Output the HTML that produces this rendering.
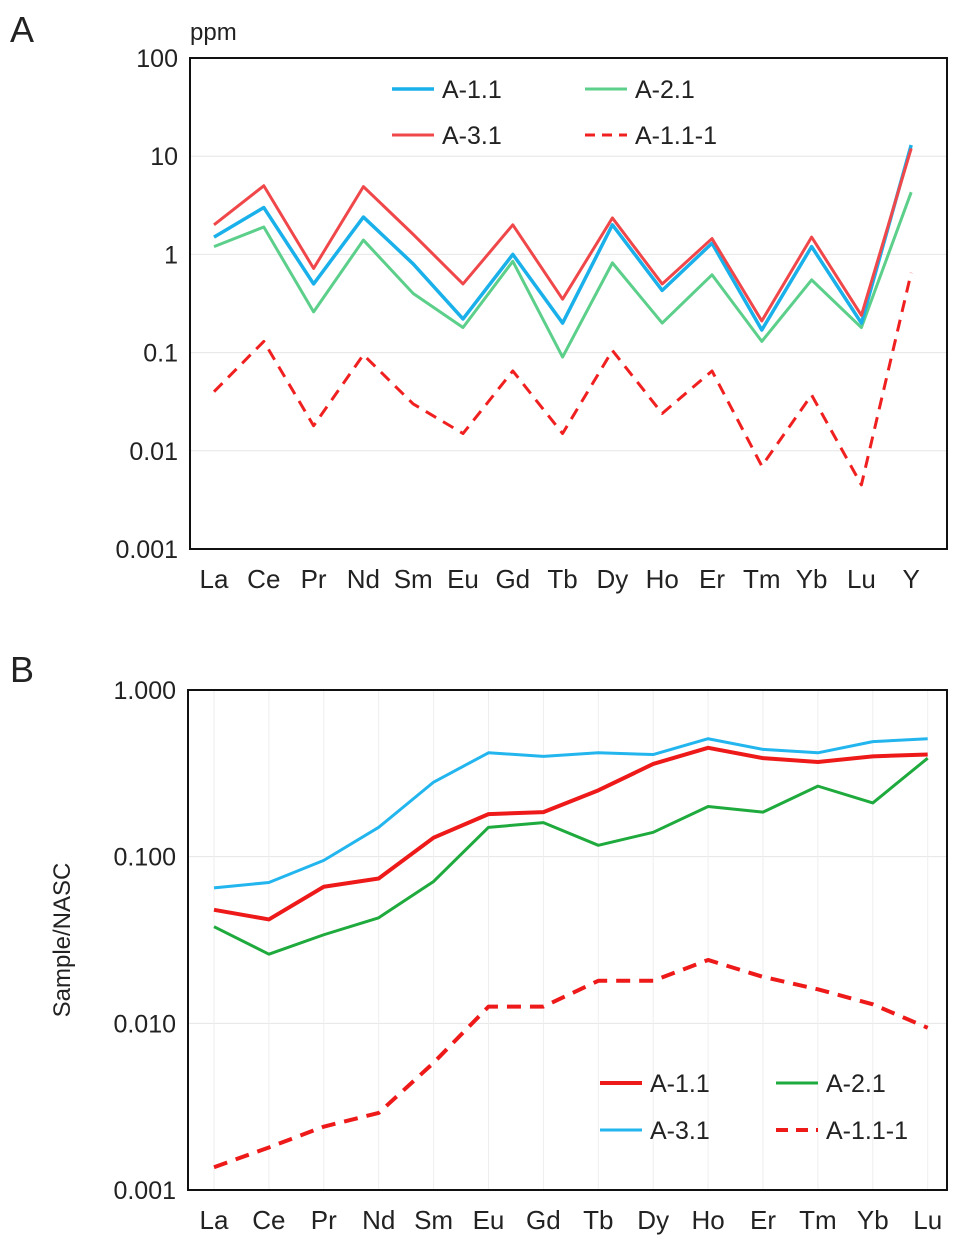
<!DOCTYPE html>
<html><head><meta charset="utf-8"><style>
body{margin:0;background:#fff;}
svg text{font-family:"Liberation Sans",Arial,sans-serif;fill:#222;}
</style></head><body>
<svg width="969" height="1246" viewBox="0 0 969 1246" xmlns="http://www.w3.org/2000/svg" id="fig">
<g id="gA"></g>
<g id="gB"></g>
</svg>
<script>
const catsA=["La","Ce","Pr","Nd","Sm","Eu","Gd","Tb","Dy","Ho","Er","Tm","Yb","Lu","Y"];
const a11A=[1.5,3.0,0.5,2.4,0.8,0.22,1.0,0.2,2.0,0.43,1.3,0.17,1.2,0.2,13];
const a21A=[1.2,1.9,0.26,1.4,0.4,0.18,0.85,0.09,0.82,0.2,0.62,0.13,0.55,0.18,4.3];
const a31A=[2.0,5.0,0.72,4.9,1.6,0.5,2.0,0.35,2.35,0.5,1.45,0.21,1.5,0.24,12];
const a111A=[0.04,0.13,0.018,0.095,0.03,0.015,0.065,0.015,0.105,0.024,0.065,0.007,0.037,0.0045,0.65];
const ticksA=["0.001","0.01","0.1","1","10","100"];
const catsB=["La","Ce","Pr","Nd","Sm","Eu","Gd","Tb","Dy","Ho","Er","Tm","Yb","Lu"];
const a11B=[0.048,0.042,0.066,0.074,0.13,0.18,0.185,0.25,0.36,0.45,0.39,0.37,0.40,0.41];
const a21B=[0.038,0.026,0.034,0.043,0.071,0.15,0.16,0.117,0.14,0.20,0.185,0.265,0.21,0.39];
const a31B=[0.065,0.07,0.095,0.15,0.28,0.42,0.40,0.42,0.41,0.51,0.44,0.42,0.49,0.51];
const a111B=[0.00137,0.0018,0.0024,0.0029,0.0058,0.0126,0.0126,0.018,0.018,0.024,0.019,0.016,0.013,0.0094];
const ticksB=["0.001","0.010","0.100","1.000"];
const NS="http://www.w3.org/2000/svg";
function mk(p,t,at){const e=document.createElementNS(NS,t);for(const k in at)e.setAttribute(k,at[k]);p.appendChild(e);return e;}
function panel(g,o){
  const L=o.L,R=o.R,T=o.T,B=o.B;
  const y=v=>B-(Math.log10(v)-o.lmin)/(o.lmax-o.lmin)*(B-T);
  const x=i=>o.x0+i*o.dx;
  for(let k=0;k<o.ticks.length;k++){
    const v=Math.pow(10,o.lmin+k),yy=y(v);
    const gl=mk(g,"line",{x1:L,x2:R,y1:yy,y2:yy,stroke:"#e6e6e6","stroke-width":1});
    
    
    const tx=mk(g,"text",{x:L-12,y:yy+9,"text-anchor":"end","font-size":o.tfs});
    tx.textContent=o.ticks[k];
    
    
  }
  if(o.vgrid){o.cats.forEach((c,i)=>{const vl=mk(g,"line",{x1:x(i),x2:x(i),y1:T,y2:B,stroke:"#eeeeee"});
    
    });}
  const box=mk(g,"rect",{x:L,y:T,width:R-L,height:B-T,fill:"none",stroke:"#111","stroke-width":2});
  
  
  o.cats.forEach((c,i)=>{const t=mk(g,"text",{x:x(i),y:B+39,"text-anchor":"middle","font-size":26});t.textContent=c;
    
    });
  o.series.forEach(s=>{
    const pts=s.d.map((v,i)=>x(i)+","+y(v)).join(" ");
    const pl=mk(g,"polyline",{points:pts,fill:"none",stroke:s.c,"stroke-width":s.w,"stroke-dasharray":s.dash||"none","stroke-linejoin":"round"});
    
    
  });
}
const gA=document.getElementById("gA"),gB=document.getElementById("gB");
panel(gA,{L:190,R:947,T:58,B:549,lmin:-3,lmax:2,x0:214,dx:49.8,cats:catsA,ticks:ticksA,tfs:25,series:[
 {n:"a-2-1",d:a21A,c:"#5ccf8a",w:3},{n:"a-1-1",d:a11A,c:"#1ab0ea",w:3.5},{n:"a-3-1",d:a31A,c:"#f0474a",w:3},{n:"a-1-1-1",d:a111A,c:"#f02020",w:3,dash:"12,8"}]});
panel(gB,{L:188,R:947,T:690,B:1190,lmin:-3,lmax:0,x0:214,dx:54.9,cats:catsB,ticks:ticksB,tfs:25,vgrid:true,series:[
 {n:"a-3-1",d:a31B,c:"#22b5ee",w:3},{n:"a-2-1",d:a21B,c:"#1eaa3c",w:3},{n:"a-1-1",d:a11B,c:"#ee1a1a",w:4},{n:"a-1-1-1",d:a111B,c:"#ee1a1a",w:4,dash:"14,9"}]});
function leg(g,x,yy,c,w,dash,label){
  const l=mk(g,"line",{x1:x,x2:x+42,y1:yy,y2:yy,stroke:c,"stroke-width":w,"stroke-dasharray":dash||"none"});
  
  
  const t=mk(g,"text",{x:x+50,y:yy+9,"font-size":25});t.textContent=label;
  
  
}
leg(gA,392,89,"#1ab0ea",3.5,null,"A-1.1");leg(gA,585,89,"#5ccf8a",3,null,"A-2.1");
leg(gA,392,135,"#f0474a",3,null,"A-3.1");leg(gA,585,135,"#f02020",3,"10,7","A-1.1-1");
leg(gB,600,1083,"#ee1a1a",4,null,"A-1.1");leg(gB,776,1083,"#1eaa3c",3,null,"A-2.1");
leg(gB,600,1130,"#22b5ee",3,null,"A-3.1");leg(gB,776,1130,"#ee1a1a",4,"12,8","A-1.1-1");
function txt(g,x,yy,s,fs,name,rot){const t=mk(g,"text",{x:x,y:yy,"font-size":fs});if(rot)t.setAttribute("transform",rot);t.textContent=s;
  
  return t;}
txt(gA,10,42,"A",36,"panel-label-a");
txt(gA,190,40,"ppm",24,"y-unit-label");
txt(gB,10,682,"B",36,"panel-label-b");
const yt=txt(gB,0,0,"Sample/NASC",24,"y-axis-title","translate(70,940) rotate(-90)");yt.setAttribute("text-anchor","middle");
</script>
</body></html>
